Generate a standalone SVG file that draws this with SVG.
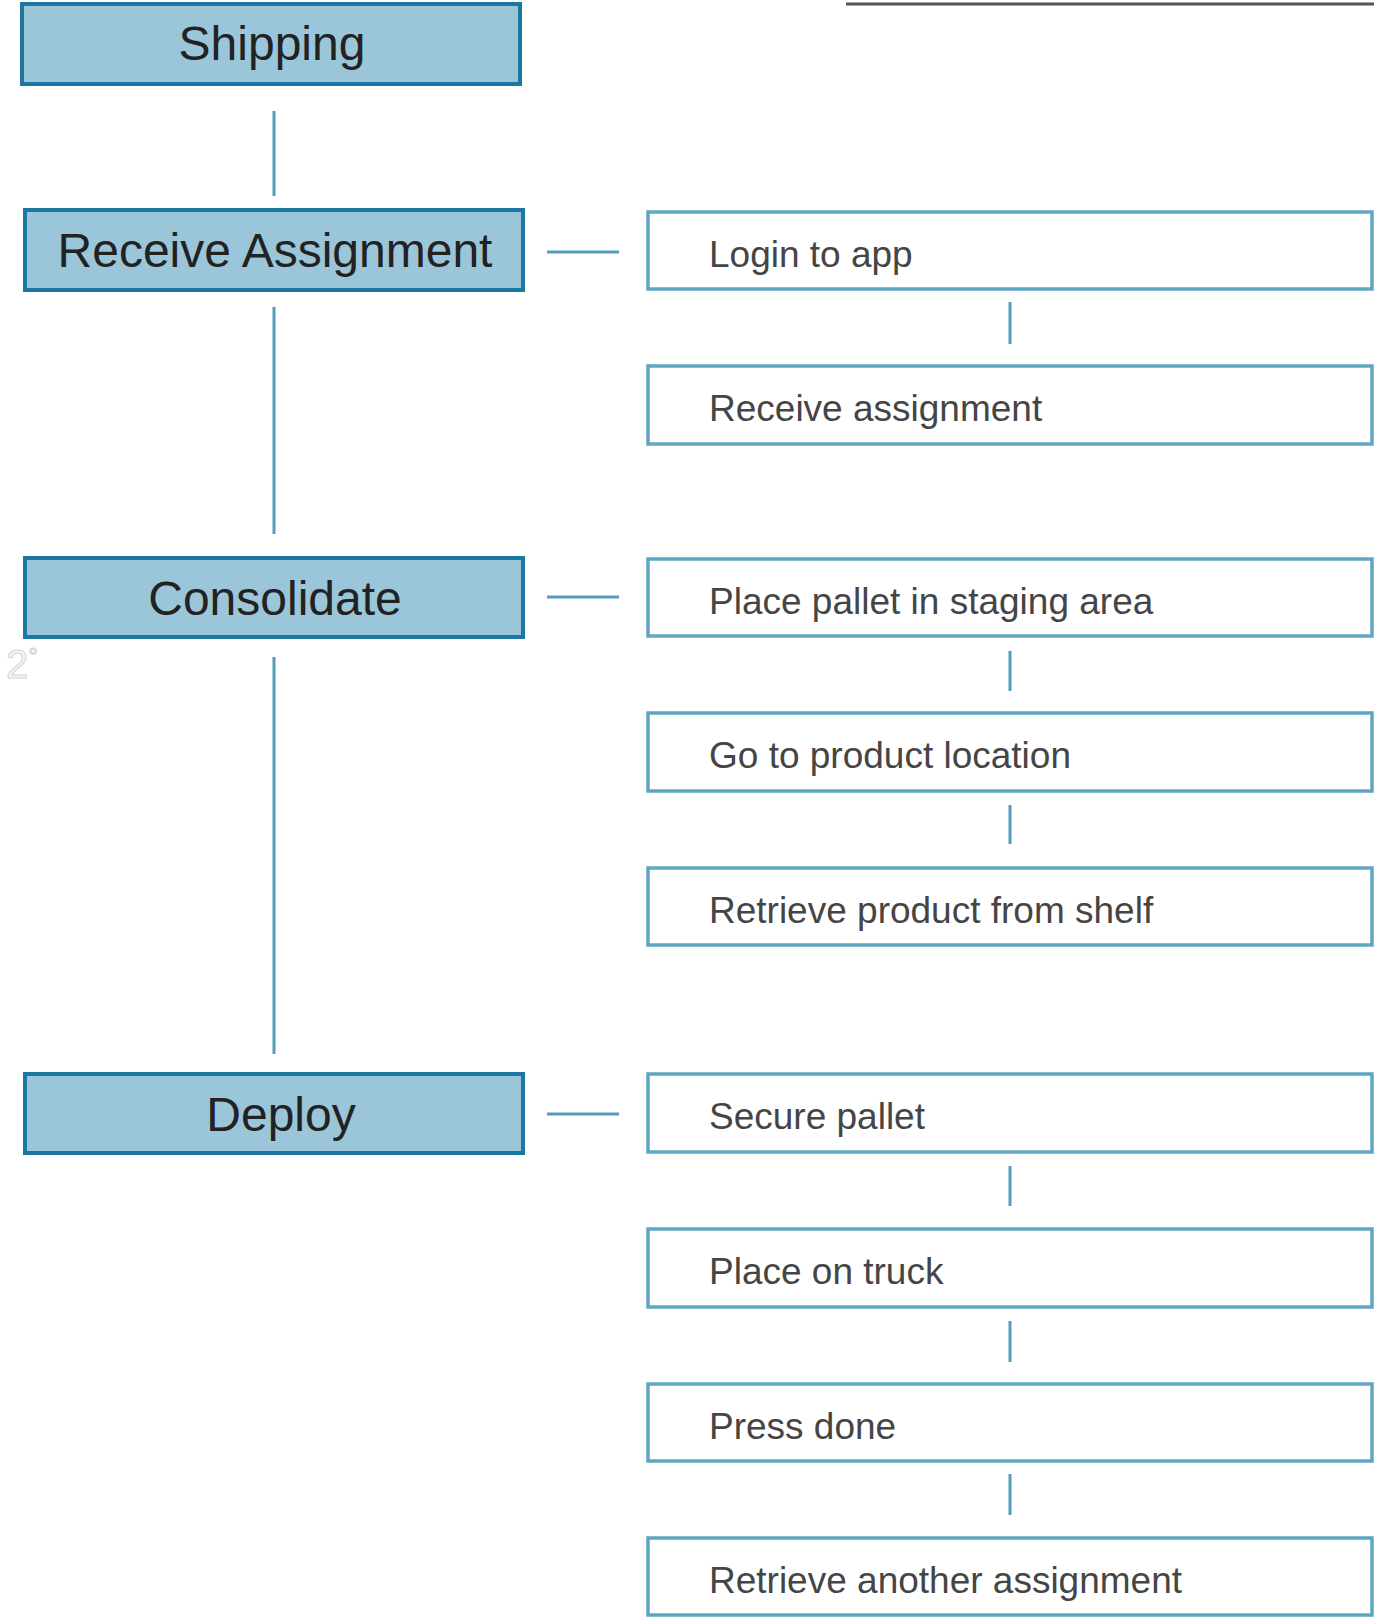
<svg xmlns="http://www.w3.org/2000/svg" width="1374" height="1618" viewBox="0 0 1374 1618">
<style>
  .main rect { fill: #9bc6d9; stroke: #1b78a0; stroke-width: 4; }
  .main text { font-family: "Liberation Sans", Arial, sans-serif; font-size: 48px; fill: #222; text-anchor: middle; }
  .step rect { fill: #ffffff; stroke: #5fa6c3; stroke-width: 3.5; }
  .step text { font-family: "Liberation Sans", Arial, sans-serif; font-size: 37px; fill: #454545; }
  .conn line { stroke: #4f9ec0; stroke-width: 3; }
</style>
<rect x="0" y="0" width="1374" height="1618" fill="#ffffff"/>
<line x1="846" y1="4" x2="1374" y2="4" stroke="#555555" stroke-width="3"/>
<text x="6" y="678" font-family="Liberation Sans, Arial, sans-serif" font-size="40" fill="#f6f6f6" stroke="#d4d4d4" stroke-width="1">2<tspan font-size="24" dy="-14">°</tspan></text>

<g id="connectors" class="conn">
  <line x1="274" y1="111" x2="274" y2="196"/>
  <line x1="274" y1="307" x2="274" y2="534"/>
  <line x1="274" y1="657" x2="274" y2="1054"/>
  <line x1="547" y1="252" x2="619" y2="252"/>
  <line x1="547" y1="597" x2="619" y2="597"/>
  <line x1="547" y1="1114" x2="619" y2="1114"/>
  <line x1="1010" y1="302" x2="1010" y2="344"/>
  <line x1="1010" y1="651" x2="1010" y2="691"/>
  <line x1="1010" y1="805" x2="1010" y2="844"/>
  <line x1="1010" y1="1166" x2="1010" y2="1206"/>
  <line x1="1010" y1="1321" x2="1010" y2="1362"/>
  <line x1="1010" y1="1474" x2="1010" y2="1515"/>
</g>

<g id="shipping" class="main"><rect x="22" y="4" width="498" height="80"/><text x="272" y="60">Shipping</text></g>
<g id="receive-assignment" class="main"><rect x="25" y="210" width="498" height="80"/><text x="275" y="267">Receive Assignment</text></g>
<g id="consolidate" class="main"><rect x="25" y="558" width="498" height="79"/><text x="275" y="615">Consolidate</text></g>
<g id="deploy" class="main"><rect x="25" y="1074" width="498" height="79"/><text x="281" y="1131">Deploy</text></g>

<g id="login" class="step"><rect x="648" y="212" width="724" height="77"/><text x="709" y="267">Login to app</text></g>
<g id="receive-step" class="step"><rect x="648" y="366" width="724" height="78"/><text x="709" y="421">Receive assignment</text></g>
<g id="place-pallet" class="step"><rect x="648" y="559" width="724" height="77"/><text x="709" y="614">Place pallet in staging area</text></g>
<g id="go-to-product" class="step"><rect x="648" y="713" width="724" height="78"/><text x="709" y="768">Go to product location</text></g>
<g id="retrieve-product" class="step"><rect x="648" y="868" width="724" height="77"/><text x="709" y="923">Retrieve product from shelf</text></g>
<g id="secure-pallet" class="step"><rect x="648" y="1074" width="724" height="78"/><text x="709" y="1129">Secure pallet</text></g>
<g id="place-on-truck" class="step"><rect x="648" y="1229" width="724" height="78"/><text x="709" y="1284">Place on truck</text></g>
<g id="press-done" class="step"><rect x="648" y="1384" width="724" height="77"/><text x="709" y="1439">Press done</text></g>
<g id="retrieve-another" class="step"><rect x="648" y="1538" width="724" height="77"/><text x="709" y="1593">Retrieve another assignment</text></g>
</svg>
